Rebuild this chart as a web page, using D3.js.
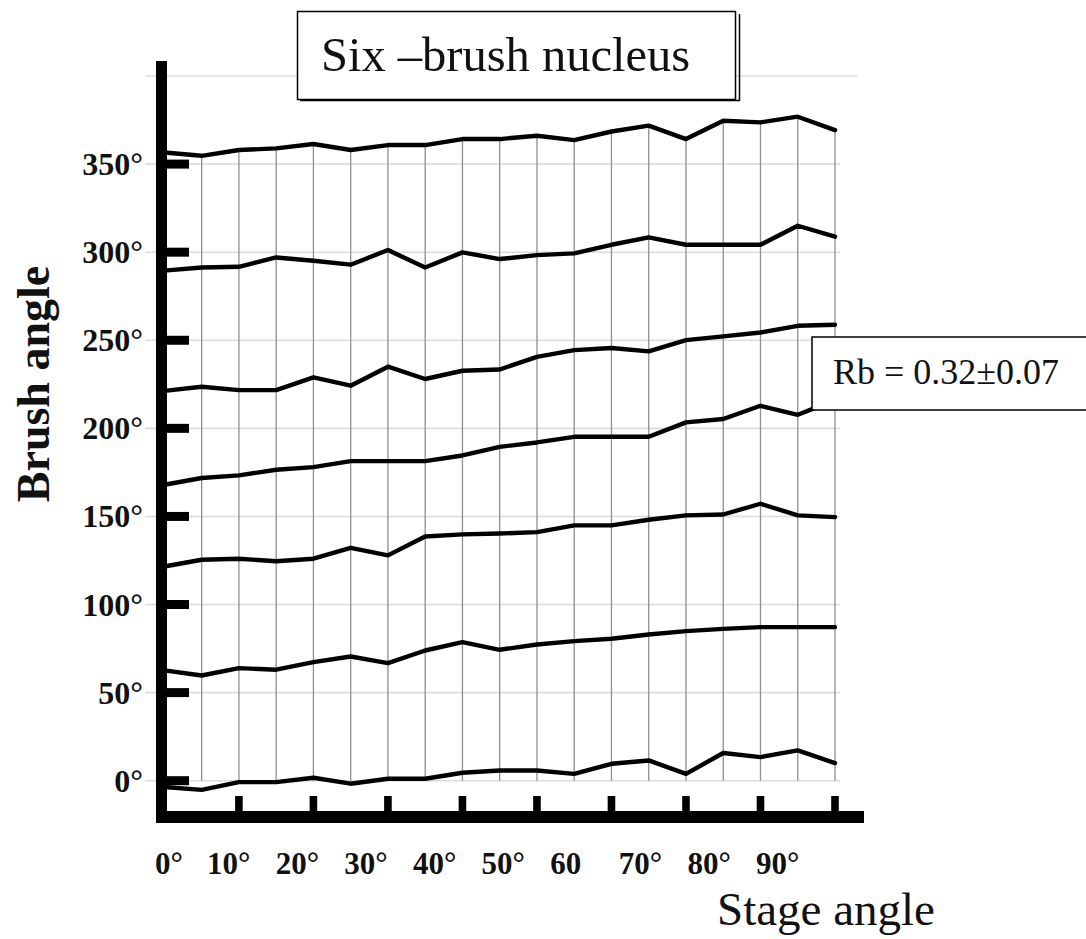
<!DOCTYPE html>
<html>
<head>
<meta charset="utf-8">
<script src="https://cdn.jsdelivr.net/npm/d3@7"></script>
<style>
  html, body { margin: 0; padding: 0; background: #fff; }
  svg { display: block; }
  text { font-family: "Liberation Serif", "Times New Roman", serif; }
</style>
</head>
<body>
<svg id="chart" width="1086" height="939"></svg>
<script>
// ---- data ----
const stageAngles = [0,5,10,15,20,25,30,35,40,45,50,55,60,65,70,75,80,85,90];
const brush1 = [-3.6,-5.2,-0.8,-0.8,1.7,-1.7,1.1,1.1,4.5,5.8,5.8,3.9,9.6,11.5,3.9,15.7,13.4,17.2,10.0];
const brush2 = [62.6,59.7,63.9,63.0,67.3,70.5,66.7,73.9,78.7,74.3,77.3,79.2,80.6,83.0,84.9,86.2,87.2,87.2,87.2];
const brush3 = [121.6,125.4,126.0,124.6,126.0,132.2,127.9,138.6,139.8,140.3,141.1,144.9,144.9,148.1,150.6,151.1,157.2,150.6,149.6];
const brush4 = [168.0,171.8,173.3,176.5,178.0,181.4,181.4,181.4,184.6,189.5,192.0,195.2,195.2,195.2,203.4,205.3,212.8,207.7,216.0];
const brush5 = [221.3,223.6,221.7,221.7,228.9,224.2,235.0,228.0,232.7,233.4,240.6,244.4,245.6,243.7,250.1,252.2,254.4,258.2,258.8];
const brush6 = [289.5,291.3,291.7,297.0,295.1,292.9,301.2,291.3,299.9,296.1,298.3,299.3,304.2,308.4,304.2,304.2,304.2,315.0,308.8];
const brush7 = [356.6,354.7,358.0,358.9,361.4,358.0,360.8,360.8,364.2,364.2,366.1,363.6,368.5,371.8,364.2,374.6,373.7,376.9,369.3];
const seriesList = [brush1, brush2, brush3, brush4, brush5, brush6, brush7];

const yTickValues = [0,50,100,150,200,250,300,350];
const yTickLabels = ["0°","50°","100°","150°","200°","250°","300°","350°"];
const yGridValues = [0,50,100,150,200,250,300,350,400];
const xTickValues = [10,20,30,40,50,60,70,80,90];
const xLabelValues = [0,10,20,30,40,50,60,70,80,90];
const xLabelTexts = ["0°","10°","20°","30°","40°","50°","60","70°","80°","90°"];

const titleText = "Six \u2013brush nucleus";
const noteText = "Rb = 0.32\u00b10.07";
const xTitle = "Stage angle";
const yTitle = "Brush angle";

// ---- scales ----
const svg = d3.select("#chart");
const x = d3.scaleLinear().domain([0, 90]).range([164.4, 835]);
const y = d3.scaleLinear().domain([0, 400]).range([780.7, 76]);
// label placement scale (labels in the original drift from the ticks)
const xLabel = d3.scaleLinear().domain([0, 10, 90]).range([155, 207, 756]);

// ---- horizontal gridlines ----
svg.append("g").selectAll("line").data(yGridValues).join("line")
  .attr("x1", 145).attr("x2", d => d === 400 ? 857 : 840)
  .attr("y1", d => y(d)).attr("y2", d => y(d))
  .attr("stroke", "#dcdcdc").attr("stroke-width", 1.6);

// ---- vertical gridlines (from top curve down to 0°) ----
svg.append("g").selectAll("line").data(stageAngles.slice(1)).join("line")
  .attr("x1", d => x(d)).attr("x2", d => x(d))
  .attr("y1", (d, i) => y(brush7[i + 1]))
  .attr("y2", y(0))
  .attr("stroke", "#8f8f8f").attr("stroke-width", 1.3);

// ---- series ----
const line = d3.line().x((d, i) => x(stageAngles[i])).y(d => y(d));
svg.append("g").selectAll("path").data(seriesList).join("path")
  .attr("d", d => line(d))
  .attr("fill", "none").attr("stroke", "#000").attr("stroke-width", 4.4)
  .attr("stroke-linejoin", "round").attr("stroke-linecap", "round");

// ---- axes ----
svg.append("rect").attr("x", 156).attr("y", 61).attr("width", 11).attr("height", 762).attr("fill", "#000");
svg.append("rect").attr("x", 156).attr("y", 811).attr("width", 708).attr("height", 12).attr("fill", "#000");

// y tick bars
svg.append("g").selectAll("rect").data(yTickValues).join("rect")
  .attr("x", 163).attr("width", 26)
  .attr("y", d => y(d) - 4.5).attr("height", 9)
  .attr("fill", "#000");

// x tick bars
svg.append("g").selectAll("rect").data(xTickValues).join("rect")
  .attr("x", d => x(d) - 3.8).attr("width", 7.6)
  .attr("y", 796).attr("height", 16)
  .attr("fill", "#000");

// y tick labels
svg.append("g").selectAll("text").data(yTickValues).join("text")
  .attr("x", 143).attr("y", d => y(d) + 11)
  .attr("text-anchor", "end")
  .attr("font-size", 32).attr("font-weight", "bold").attr("fill", "#111")
  .text((d, i) => yTickLabels[i]);

// x tick labels
svg.append("g").selectAll("text").data(xLabelValues).join("text")
  .attr("x", d => xLabel(d)).attr("y", 874)
  .attr("text-anchor", "start")
  .attr("font-size", 31).attr("font-weight", "bold").attr("fill", "#111")
  .text((d, i) => xLabelTexts[i]);

// axis titles
svg.append("text").attr("x", 717).attr("y", 925)
  .attr("font-size", 47).attr("fill", "#111").text(xTitle);
svg.append("text")
  .attr("transform", "translate(49,384) rotate(-90)")
  .attr("text-anchor", "middle")
  .attr("font-size", 46).attr("font-weight", "bold").attr("fill", "#111")
  .text(yTitle);

// ---- title box ----
const tb = svg.append("g");
tb.append("line").attr("x1", 739.5).attr("x2", 739.5).attr("y1", 14).attr("y2", 100.5)
  .attr("stroke", "#000").attr("stroke-width", 1.5);
tb.append("line").attr("x1", 300).attr("x2", 740).attr("y1", 100.5).attr("y2", 100.5)
  .attr("stroke", "#000").attr("stroke-width", 1.5);
tb.append("rect").attr("x", 297.5).attr("y", 11.5).attr("width", 438).attr("height", 88)
  .attr("fill", "#fff").attr("stroke", "#000").attr("stroke-width", 1.5);
tb.append("text").attr("x", 321).attr("y", 71)
  .attr("font-size", 48.5).attr("fill", "#111").text(titleText);

// ---- Rb box ----
const rb = svg.append("g");
rb.append("rect").attr("x", 812).attr("y", 337).attr("width", 290).attr("height", 73)
  .attr("fill", "#fff").attr("stroke", "#000").attr("stroke-width", 1.5);
rb.append("text").attr("x", 833).attr("y", 384)
  .attr("font-size", 36).attr("fill", "#111").text(noteText);
</script>
</body>
</html>
